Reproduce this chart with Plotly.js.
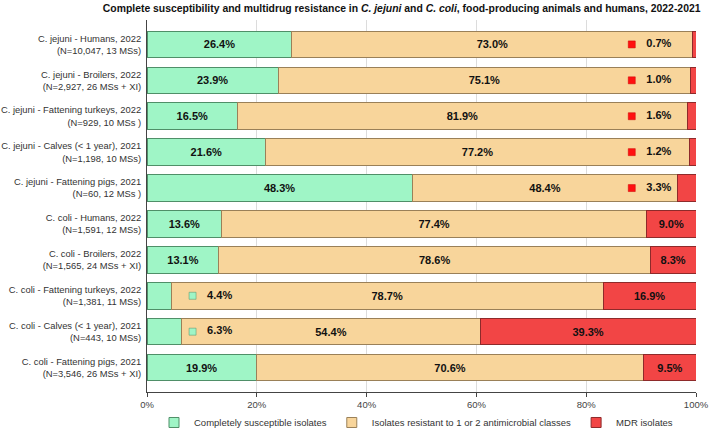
<!DOCTYPE html>
<html>
<head>
<meta charset="utf-8">
<script src="https://cdn.plot.ly/plotly-3.0.1.min.js"></script>
<style>
  body { margin: 0; background: #fff; }
  #chart { width: 709px; height: 435px; }
</style>
</head>
<body>
<div id="chart"></div>
<script>
// categories, top to bottom
const categorias = [
  "C. jejuni - Humans, 2022<br>(N=10,047, 13 MSs)",
  "C. jejuni - Broilers, 2022<br>(N=2,927, 26 MSs + XI)",
  "C. jejuni - Fattening turkeys, 2022<br>(N=929, 10 MSs )",
  "C. jejuni - Calves (< 1 year), 2021<br>(N=1,198, 10 MSs)",
  "C. jejuni - Fattening pigs, 2021<br>(N=60, 12 MSs )",
  "C. coli - Humans, 2022<br>(N=1,591, 12 MSs)",
  "C. coli - Broilers, 2022<br>(N=1,565, 24 MSs + XI)",
  "C. coli - Fattening turkeys, 2022<br>(N=1,381, 11 MSs)",
  "C. coli - Calves (< 1 year), 2021<br>(N=443, 10 MSs)",
  "C. coli - Fattening pigs, 2021<br>(N=3,546, 26 MSs + XI)"
];

const suscetiveis = [26.4, 23.9, 16.5, 21.6, 48.3, 13.6, 13.1, 4.4, 6.3, 19.9];
const resistentes = [73.0, 75.1, 81.9, 77.2, 48.4, 77.4, 78.6, 78.7, 54.4, 70.6];
const mdr = [0.7, 1.0, 1.6, 1.2, 3.3, 9.0, 8.3, 16.9, 39.3, 9.5];

const series = [
  "Completely susceptible isolates",
  "Isolates resistant to 1 or 2 antimicrobial classes",
  "MDR isolates"
];

const FONTE = "Liberation Sans, Arial, sans-serif";
const LIMITE_MDR = 5;  // abaixo disso o rótulo vai fora do segmento
const LIMITE_SUS = 7;

const cores = {
  sus: { fill: "#9ff5c6", line: "#4f8f68" },
  res: { fill: "#f8d59b", line: "#9a8058" },
  mdr: { fill: "#f24545", line: "#8e2a2a" }
};

function barra(nome, valores, cor, limite) {
  return {
    type: "bar",
    orientation: "h",
    name: nome,
    y: categorias,
    x: valores,
    text: valores.map(v => v < limite ? "" : v.toFixed(1) + "%"),
    textposition: "inside",
    insidetextanchor: "middle",
    constraintext: "none",
    textfont: { family: FONTE, size: 11, color: "#111", weight: "bold" },
    marker: { color: cor.fill, line: { color: cor.line, width: 1 } },
    showlegend: false,
    hoverinfo: "x+name"
  };
}

// rótulos dos segmentos pequenos (quadradinho + valor)
function marcadores(valores, limite, xPos, cor) {
  const idx = valores.map((v, i) => i).filter(i => valores[i] < limite);
  return {
    type: "scatter",
    mode: "markers+text",
    y: idx.map(i => categorias[i]),
    x: idx.map(() => xPos),
    text: idx.map(i => "&nbsp;&nbsp;&nbsp;" + valores[i].toFixed(1) + "%"),
    textposition: "middle right",
    textfont: { family: FONTE, size: 11, color: "#111", weight: "bold" },
    marker: { symbol: "square", size: 7, color: cor.fill, line: { color: cor.line, width: 0.5 } },
    showlegend: false,
    hoverinfo: "skip",
    cliponaxis: false
  };
}

// itens de legenda com quadradinho pequeno
function legenda(nome, cor) {
  return {
    type: "scatter",
    mode: "markers",
    name: nome,
    x: [null],
    y: [null],
    marker: { symbol: "square", size: 10, color: cor.fill, line: { color: cor.line, width: 1 } },
    hoverinfo: "skip"
  };
}

const dados = [
  barra(series[0], suscetiveis, cores.sus, LIMITE_SUS),
  barra(series[1], resistentes, cores.res, 0),
  barra(series[2], mdr, cores.mdr, LIMITE_MDR),
  marcadores(mdr, LIMITE_MDR, 88.3, { fill: "#ff1010", line: "#cc0000" }),
  marcadores(suscetiveis, LIMITE_SUS, 8.3, cores.sus),
  legenda(series[0], cores.sus),
  legenda(series[1], cores.res),
  legenda(series[2], cores.mdr)
];

const layout = {
  width: 709,
  height: 435,
  barmode: "stack",
  bargap: 0.26,
  margin: { l: 147, r: 13, t: 20, b: 43, autoexpand: false },
  paper_bgcolor: "#fff",
  plot_bgcolor: "#fff",
  font: { family: FONTE, size: 10, color: "#333" },
  title: {
    text: "Complete susceptibility and multidrug resistance in <i>C. jejuni</i> and <i>C. coli</i>, food-producing animals and humans, 2022-2021",
    font: { size: 10.4, color: "#111", weight: "bold" },
    xref: "container",
    x: 0.988,
    xanchor: "right",
    y: 0.99,
    yanchor: "top"
  },
  xaxis: {
    range: [0, 100],
    tickvals: [0, 20, 40, 60, 80, 100],
    ticktext: ["0%", "20%", "40%", "60%", "80%", "100%"],
    showgrid: true,
    gridcolor: "#dcdcdc",
    zeroline: false,
    showline: true,
    linecolor: "#444",
    ticks: "outside",
    ticklen: 4,
    tickcolor: "#444",
    tickfont: { size: 9.5, color: "#444" },
    fixedrange: true
  },
  yaxis: {
    type: "category",
    range: [9.68, -0.68],
    showline: true,
    linecolor: "#444",
    ticks: "",
    ticklabelstandoff: 3,
    tickfont: { size: 9.4, color: "#333" },
    fixedrange: true
  },
  legend: {
    orientation: "h",
    x: 0.49,
    xanchor: "center",
    y: -0.043,
    yanchor: "top",
    itemwidth: 30,
    font: { size: 9.5, color: "#333" },
    traceorder: "normal"
  },
  showlegend: true
};

Plotly.newPlot("chart", dados, layout, { displayModeBar: false, staticPlot: true });
</script>
</body>
</html>
